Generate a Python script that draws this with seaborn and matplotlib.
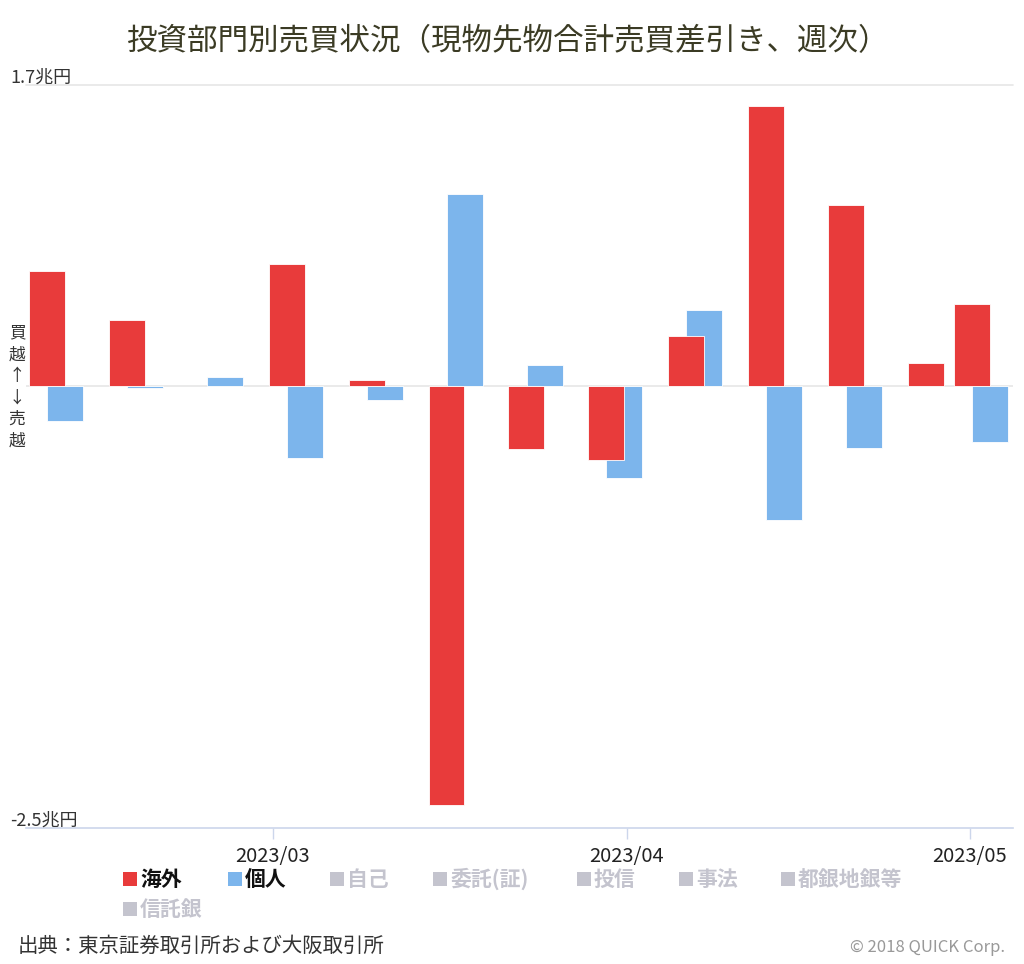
import matplotlib
matplotlib.use("Agg")
import matplotlib.pyplot as plt
import matplotlib.dates as mdates
from matplotlib.patches import Rectangle
import seaborn as sns
import numpy as np
import pandas as pd

# 週次データ（兆円）
weeks = ["2023-02-10", "2023-02-17", "2023-02-24", "2023-03-03", "2023-03-10",
         "2023-03-17", "2023-03-24", "2023-03-31", "2023-04-07", "2023-04-14",
         "2023-04-21", "2023-04-28", "2023-05-02"]
kaigai = [0.65, 0.37, np.nan, 0.69, 0.03, -2.37, -0.36, -0.42, 0.28, 1.58, 1.02, 0.13, 0.46]
kojin = [-0.20, -0.01, 0.05, -0.41, -0.08, 1.085, 0.12, -0.52, 0.43, -0.76, -0.35, np.nan, -0.32]

series_names = ["海外", "個人"]
legend_labels = ["海外", "個人", "自己", "委託(証)", "投信", "事法", "都銀地銀等", "信託銀"]
colors = {"海外": "#E83B3B", "個人": "#7CB5EC"}
off_color = "#C4C4CE"

sns.set_theme(style="white")
plt.rcParams["font.family"] = ["Noto Sans CJK JP", "DejaVu Sans"]

W, H = 1024, 964
fig = plt.figure(figsize=(W / 100, H / 100), dpi=100)
ax = fig.add_axes([26 / W, 1 - 828 / H, (1013 - 26) / W, (828 - 85) / H])

# 系列ごとに少しずらして重ねる
offset = 0.79
bar_w = 3.15
dates = mdates.date2num(pd.to_datetime(weeks))
df = pd.concat([
    pd.DataFrame({"x": dates - offset, "value": kaigai, "series": "海外"}),
    pd.DataFrame({"x": dates + offset, "value": kojin, "series": "個人"}),
]).dropna()

sns.barplot(data=df, x="x", y="value", hue="series", hue_order=["個人", "海外"],
            palette=colors, saturation=1, native_scale=True, dodge=False,
            errorbar=None, width=bar_w / (2 * offset), edgecolor="white",
            linewidth=0.6, legend=False, ax=ax)

ax.set_ylim(-2.5, 1.7)
mar1 = mdates.date2num(pd.Timestamp("2023-03-01"))
ax.set_xlim(mar1 - 21.6, mar1 + 64.8)
ax.xaxis.set_major_locator(mdates.MonthLocator())
ax.xaxis.set_major_formatter(mdates.DateFormatter("%Y/%m"))
ax.tick_params(axis="x", length=8, width=1, color="#CCD6EB", pad=5,
               labelsize=14.5, labelcolor="#222222", bottom=True)
ax.set_yticks([])
ax.set_xlabel("")
ax.set_ylabel("")
for s in ["top", "left", "right"]:
    ax.spines[s].set_visible(False)
ax.spines["bottom"].set_color("#CCD6EB")
ax.spines["bottom"].set_linewidth(1.2)

ax.axhline(1.7, color="#E6E6E6", lw=1.2, zorder=0, clip_on=False)
ax.axhline(0, color="#E6E6E6", lw=1.2, zorder=0)

tr = ax.get_yaxis_transform()
ax.text(-16 / 987, 1.69, "1.7兆円", transform=tr, ha="left", va="bottom",
        fontsize=13, color="#333333")
ax.text(-16 / 987, -2.51, "-2.5兆円", transform=tr, ha="left", va="bottom",
        fontsize=13, color="#333333")

fig.text(17 / W, 1 - 387 / H, "\n".join("買越↑↓売越"), ha="center", va="center",
         fontsize=12, color="#333333", linespacing=1.35)

fig.text(507 / W, 1 - 42 / H, "投資部門別売買状況（現物先物合計売買差引き、週次）",
         ha="center", va="center", fontsize=22, color="#3B3B24")

# 凡例（手作り）
leg_pos = [(123, 879), (228, 879), (330, 879), (433, 879), (577, 879),
           (679, 879), (781, 879), (123, 909)]
for i, (lab, (px, py)) in enumerate(zip(legend_labels, leg_pos)):
    active = lab in series_names
    c = colors[lab] if active else off_color
    fig.patches.append(Rectangle((px / W, 1 - (py + 7) / H), 14 / W, 14 / H,
                                 transform=fig.transFigure, facecolor=c,
                                 edgecolor="none"))
    fig.text((px + 17) / W, 1 - py / H, lab, ha="left", va="center",
             fontsize=15, fontweight="bold",
             color="#111111" if active else off_color)

fig.text(18 / W, 1 - 946 / H, "出典：東京証券取引所および大阪取引所",
         ha="left", va="center", fontsize=14.7, color="#333333")
fig.text(1005 / W, 1 - 948 / H, "© 2018 QUICK Corp.", ha="right", va="center",
         fontsize=12, color="#999999")

fig.savefig("out.png", dpi=100)
